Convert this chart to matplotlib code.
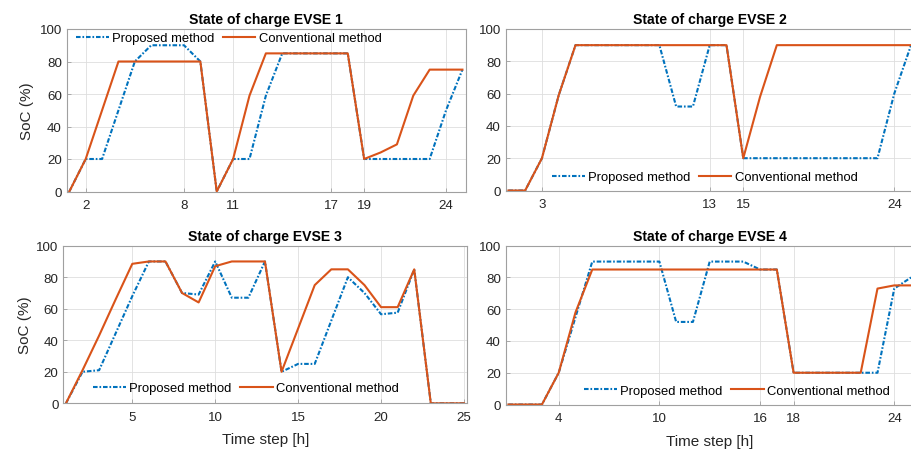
import matplotlib
matplotlib.use("Agg")
import matplotlib.pyplot as plt

plt.rcParams['font.family'] = ['Liberation Sans', 'DejaVu Sans']

# time steps 1..25
t = list(range(1, 26))

# EVSE 1
evse1_prop = [0, 20, 20, 50, 80, 90, 90, 90, 80, 0, 20, 20, 59, 85, 85, 85, 85, 85,
              20, 20, 20, 20, 20, 50, 75]
evse1_conv = [0, 20, 50, 80, 80, 80, 80, 80, 80, 0, 20, 59, 85, 85, 85, 85, 85, 85,
              20, 24, 29, 59, 75, 75, 75]
# EVSE 2
evse2_prop = [0, 0, 20, 59, 90, 90, 90, 90, 90, 90, 52, 52, 90, 90, 20, 20, 20, 20,
              20, 20, 20, 20, 20, 60, 90]
evse2_conv = [0, 0, 20, 59, 90, 90, 90, 90, 90, 90, 90, 90, 90, 90, 20, 58, 90, 90,
              90, 90, 90, 90, 90, 90, 90]
# EVSE 3
evse3_prop = [0, 20, 21, 44.5, 68, 90, 90, 70, 69, 90, 67, 67, 90, 20, 25, 25, 52.5,
              80, 70, 56.5, 57.5, 85, 0, 0, 0]
evse3_conv = [0, 21, 43, 66, 88.5, 90, 90, 70, 64, 87, 90, 90, 90, 20, 47.5, 75, 85,
              85, 75, 61, 61, 85, 0, 0, 0]
# EVSE 4
evse4_prop = [0, 0, 0, 20, 55, 90, 90, 90, 90, 90, 52, 52, 90, 90, 90, 85, 85, 20,
              20, 20, 20, 20, 20, 73, 80]
evse4_conv = [0, 0, 0, 20, 58, 85, 85, 85, 85, 85, 85, 85, 85, 85, 85, 85, 85, 20,
              20, 20, 20, 20, 73, 75, 75]

titles = ['State of charge EVSE 1', 'State of charge EVSE 2',
          'State of charge EVSE 3', 'State of charge EVSE 4']
xticks = [[2, 8, 11, 17, 19, 24], [3, 13, 15, 24], [5, 10, 15, 20, 25], [4, 10, 16, 18, 24]]
props = [evse1_prop, evse2_prop, evse3_prop, evse4_prop]
convs = [evse1_conv, evse2_conv, evse3_conv, evse4_conv]

W, H = 912, 452
fig = plt.figure(figsize=(W / 100, H / 100), dpi=100)

# axes boxes in pixels: left, right, top, bottom
boxes = [(66.7, 465.7, 30, 192.5), (505.7, 914.4, 30, 191.5),
         (63.3, 467.3, 246.7, 404.3), (505.7, 914.4, 246.7, 405.5)]
# legend: left of handle, centre y (pixels)
leg_pos = [(76, 39), (552, 178.3), (93.3, 389), (584.3, 391.7)]

blue = '#0072BD'
orange = '#D95319'
spine_c = '#a0a0a0'

for i in range(4):
    l, r, tp, b = boxes[i]
    ax = fig.add_axes([l / W, 1 - b / H, (r - l) / W, (b - tp) / H])
    ax.plot(t, props[i], color=blue, lw=1.5, dashes=(2.2, 0.9, 0.8, 0.9),
            dash_capstyle='butt', label='Proposed method')
    ax.plot(t, convs[i], color=orange, lw=1.5, label='Conventional method')
    ax.set_xlim(0.84, 25.2)
    ax.set_ylim(0, 100)
    ax.set_xticks(xticks[i])
    ax.set_yticks([0, 20, 40, 60, 80, 100])
    ax.grid(True, color='#dedede', lw=0.6)
    ax.set_axisbelow(True)
    for s in ax.spines.values():
        s.set_color(spine_c)
        s.set_linewidth(0.8)
    ax.tick_params(axis='both', direction='in', length=3, width=0.6, color=spine_c,
                   labelsize=9.6, labelcolor='#262626')
    ax.tick_params(axis='x', pad=5.5)
    ax.tick_params(axis='y', pad=3.5)
    ax.set_title(titles[i], fontsize=10.1, fontweight='bold', pad=4)
    if i in (0, 2):
        ax.set_ylabel('SoC (%)', fontsize=11, color='#262626')
        ax.yaxis.set_label_coords(-0.083 if i == 0 else -0.078, 0.5)
    if i in (2, 3):
        ax.set_xlabel('Time step [h]', fontsize=11, color='#262626')
        ax.xaxis.set_label_coords(0.5, -0.185)
    lx, ly = leg_pos[i]
    ax.legend(loc='center left', bbox_to_anchor=(lx / W, 1 - ly / H),
              bbox_transform=fig.transFigure, ncol=2, frameon=False,
              fontsize=9.4, handlelength=2.5, handletextpad=0.25,
              columnspacing=0.65, borderpad=0, borderaxespad=0)

fig.savefig('out.png', dpi=100)
